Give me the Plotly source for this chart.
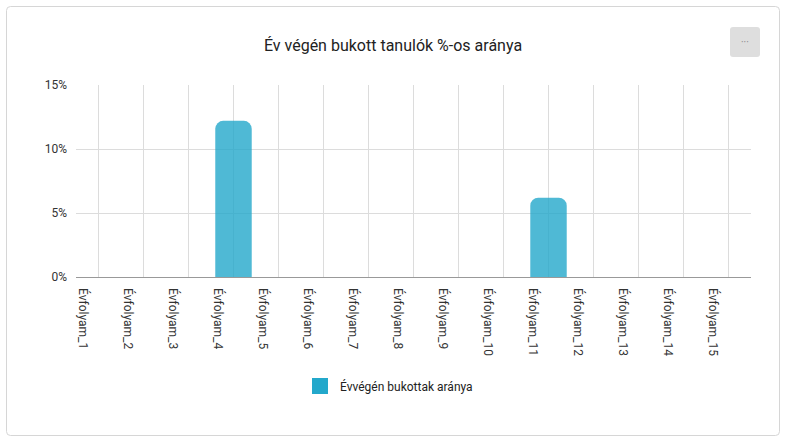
import plotly.graph_objects as go

categories = [f"Évfolyam_{i}" for i in range(1, 16)]
values = [0, 0, 0, 12.2, 0, 0, 0, 0, 0, 0, 6.2, 0, 0, 0, 0]
series_name = "Évvégén bukottak aránya"
title_text = "Év végén bukott tanulók %-os aránya"
y_ticks = [0, 5, 10, 15]
y_tick_labels = ["0%", "5%", "10%", "15%"]

W, H = 786, 442
L, R, T, B = 76, 35, 85, 165
pw, ph = W - L - R, H - T - B

def px(x):
    return (x - L) / pw

def py(y):
    return (H - B - y) / ph

def rounded_rect_path(x0, y0, x1, y1, r):
    # pixel coordinates -> paper coordinates path
    pts = []
    pts.append(f"M {px(x0 + r)},{py(y0)}")
    pts.append(f"L {px(x1 - r)},{py(y0)}")
    pts.append(f"Q {px(x1)},{py(y0)} {px(x1)},{py(y0 + r)}")
    pts.append(f"L {px(x1)},{py(y1 - r)}")
    pts.append(f"Q {px(x1)},{py(y1)} {px(x1 - r)},{py(y1)}")
    pts.append(f"L {px(x0 + r)},{py(y1)}")
    pts.append(f"Q {px(x0)},{py(y1)} {px(x0)},{py(y1 - r)}")
    pts.append(f"L {px(x0)},{py(y0 + r)}")
    pts.append(f"Q {px(x0)},{py(y0)} {px(x0 + r)},{py(y0)} Z")
    return " ".join(pts)

fig = go.Figure()
fig.add_trace(go.Bar(
    x=categories, y=values, name=series_name, showlegend=False,
    marker=dict(color="rgba(35,168,203,0.8)", line=dict(width=0)),
    width=0.81,
))
fig.add_trace(go.Scatter(
    x=[None], y=[None], mode="markers", name=series_name,
    marker=dict(symbol="square", size=21, color="#23a8cb"),
))

fig.update_layout(
    width=W, height=H,
    margin=dict(l=L, r=R, t=T, b=B),
    paper_bgcolor="white", plot_bgcolor="white",
    font=dict(family="Roboto, Arial, sans-serif", size=12, color="#333"),
    title=dict(text=title_text, x=0.5, xanchor="center", xref="container",
               y=1 - 45 / H, yanchor="middle", font=dict(size=16, color="#222")),
    barcornerradius=8,
    showlegend=True,
    legend=dict(orientation="h", x=px(389), xanchor="center", y=py(386), yanchor="middle",
                font=dict(size=12, color="#222"), itemsizing="trace"),
    xaxis=dict(tickangle=90, showgrid=True, gridcolor="#dcdcdc", showline=False,
               tickfont=dict(size=12, color="#333"), ticks="", ticklabelstandoff=10,
               ticklabelshift=-16),
    yaxis=dict(range=[0, 15], tickmode="array", tickvals=y_ticks, ticktext=y_tick_labels,
               showgrid=True, gridcolor="#dcdcdc", zeroline=True, zerolinecolor="#999",
               zerolinewidth=1, tickfont=dict(size=12, color="#333"), ticks="",
               ticklabelstandoff=8),
    shapes=[
        dict(type="path", xref="paper", yref="paper",
             path=rounded_rect_path(6.5, 6.5, 779.5, 435.5, 4),
             line=dict(color="#d6d6d6", width=1), fillcolor="rgba(0,0,0,0)", layer="below"),
        dict(type="path", xref="paper", yref="paper",
             path=rounded_rect_path(730, 27, 760, 57, 3),
             line=dict(width=0), fillcolor="#dedede", layer="above"),
    ],
    annotations=[
        dict(text="···", xref="paper", yref="paper", x=px(745), y=py(42), showarrow=False,
             font=dict(size=10, color="#888"), xanchor="center", yanchor="middle"),
    ],
)

fig.write_html("out.html", config={"displayModeBar": False},
               post_script="document.body.style.margin='0';document.body.style.padding='0';")
